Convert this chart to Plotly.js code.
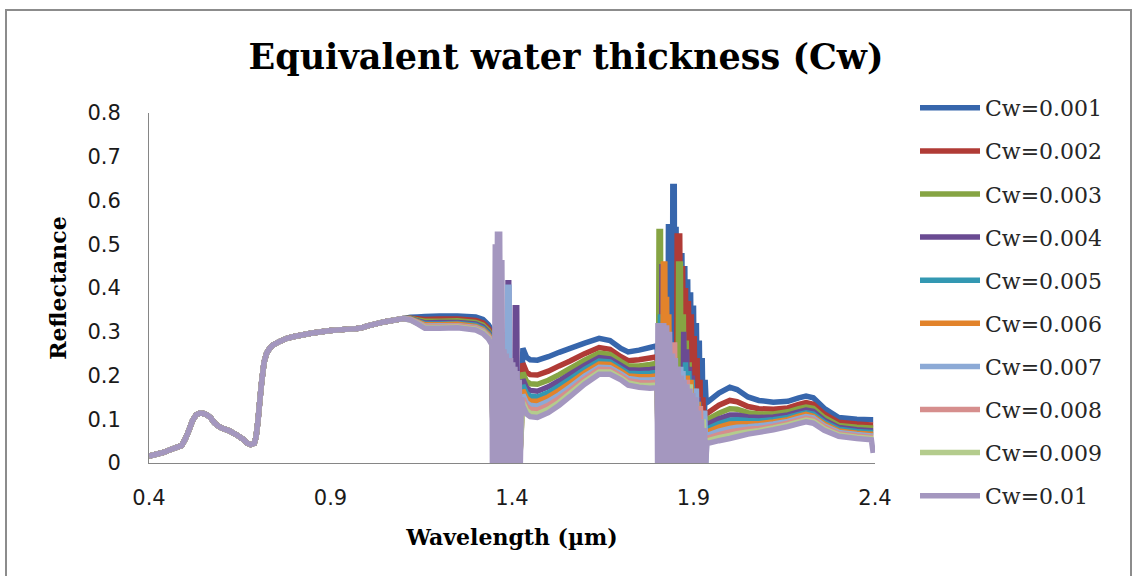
<!DOCTYPE html>
<html>
<head>
<meta charset="utf-8">
<script src="https://cdn.plot.ly/plotly-3.0.1.min.js"></script>
<style>
  html, body { margin: 0; padding: 0; background: #ffffff; }
  #chart { width: 1132px; height: 576px; }
</style>
</head>
<body>
<div id="chart"></div>
<script>
// ---------------- DATA ----------------
const seriesNames = ["Cw=0.001", "Cw=0.002", "Cw=0.003", "Cw=0.004", "Cw=0.005",
                     "Cw=0.006", "Cw=0.007", "Cw=0.008", "Cw=0.009", "Cw=0.01"];

// Common part of the spectrum (identical for every Cw), wavelength in µm
const commonWl = [0.400, 0.420, 0.440, 0.460, 0.480, 0.490, 0.500, 0.510, 0.520, 0.530,
                  0.540, 0.550, 0.560, 0.570, 0.580, 0.590, 0.600, 0.620, 0.640, 0.660,
                  0.670, 0.680, 0.690, 0.695, 0.700, 0.705, 0.710, 0.717, 0.724, 0.733,
                  0.742, 0.760, 0.780, 0.800, 0.850, 0.900, 0.950, 0.970, 0.990, 1.000,
                  1.050, 1.100];
const commonR = [0.016, 0.020, 0.024, 0.031, 0.037, 0.040, 0.055, 0.075, 0.097, 0.110,
                 0.114, 0.113, 0.110, 0.103, 0.092, 0.085, 0.080, 0.074, 0.065, 0.054,
                 0.046, 0.042, 0.045, 0.060, 0.095, 0.140, 0.183, 0.230, 0.251, 0.263,
                 0.270, 0.278, 0.285, 0.289, 0.297, 0.303, 0.306, 0.307, 0.310, 0.313,
                 0.323, 0.330];

// Segment 1.12 - 1.345 µm
const wlB = [1.12, 1.14, 1.16, 1.20, 1.25, 1.30, 1.32, 1.335, 1.345];
const reflB = [
  [0.333, 0.334, 0.335, 0.336, 0.336, 0.334, 0.328, 0.316, 0.302],
  [0.331, 0.330, 0.328, 0.329, 0.329, 0.326, 0.320, 0.308, 0.294],
  [0.331, 0.327, 0.324, 0.324, 0.325, 0.321, 0.315, 0.303, 0.289],
  [0.330, 0.325, 0.320, 0.321, 0.321, 0.318, 0.311, 0.299, 0.285],
  [0.329, 0.324, 0.318, 0.318, 0.319, 0.315, 0.308, 0.296, 0.282],
  [0.329, 0.323, 0.316, 0.316, 0.317, 0.312, 0.305, 0.293, 0.279],
  [0.328, 0.321, 0.313, 0.314, 0.314, 0.310, 0.302, 0.290, 0.276],
  [0.328, 0.320, 0.312, 0.312, 0.313, 0.308, 0.300, 0.288, 0.274],
  [0.327, 0.319, 0.310, 0.310, 0.311, 0.306, 0.298, 0.286, 0.272],
  [0.327, 0.318, 0.308, 0.308, 0.309, 0.304, 0.296, 0.284, 0.270]
];

// Noisy water band around 1.35 - 1.43 µm
const band1Wl = [
  [1.348, 1.421],
  [1.348, 1.421],
  [1.348, 1.421],
  [1.348, 1.387, 1.389, 1.391, 1.393, 1.407, 1.409, 1.413, 1.415, 1.421],
  [1.348, 1.421],
  [1.348, 1.421],
  [1.348, 1.386, 1.388, 1.392, 1.394, 1.421],
  [1.348, 1.421],
  [1.348, 1.421],
  [1.346, 1.348, 1.351, 1.354, 1.357, 1.360, 1.363, 1.366, 1.369, 1.372, 1.375, 1.378, 1.381, 1.384, 1.387,
   1.390, 1.393, 1.396, 1.399, 1.402, 1.405, 1.408, 1.411, 1.414, 1.417, 1.420, 1.423, 1.426]
];
const band1R = [
  [0, 0],
  [0, 0],
  [0, 0],
  [0, 0, 0.412, 0.412, 0, 0, 0.355, 0.355, 0, 0],
  [0, 0],
  [0, 0],
  [0, 0, 0.402, 0.402, 0, 0],
  [0, 0],
  [0, 0],
  [0, 0.27, 0, 0.50, 0, 0.529, 0, 0.529, 0, 0.464, 0, 0.26, 0, 0.25, 0,
   0.24, 0, 0.24, 0, 0.23, 0, 0.22, 0, 0.21, 0, 0.19, 0, 0.15]
];

// Segment 1.43 - 1.80 µm
const wlC = [1.43, 1.44, 1.45, 1.47, 1.50, 1.53, 1.56, 1.60, 1.64, 1.67, 1.70, 1.72, 1.75, 1.78, 1.80];
const reflC = [
  [0.262, 0.242, 0.236, 0.235, 0.243, 0.253, 0.262, 0.274, 0.285, 0.280, 0.262, 0.254, 0.258, 0.264, 0.268],
  [0.228, 0.208, 0.202, 0.201, 0.210, 0.222, 0.233, 0.250, 0.264, 0.260, 0.243, 0.234, 0.236, 0.240, 0.243],
  [0.207, 0.187, 0.181, 0.180, 0.189, 0.202, 0.216, 0.235, 0.251, 0.248, 0.232, 0.222, 0.222, 0.225, 0.228],
  [0.191, 0.172, 0.166, 0.164, 0.174, 0.188, 0.203, 0.223, 0.241, 0.238, 0.223, 0.213, 0.212, 0.214, 0.216],
  [0.178, 0.159, 0.153, 0.151, 0.161, 0.176, 0.192, 0.214, 0.233, 0.231, 0.216, 0.205, 0.204, 0.205, 0.207],
  [0.167, 0.148, 0.142, 0.141, 0.151, 0.166, 0.183, 0.206, 0.226, 0.225, 0.210, 0.199, 0.197, 0.197, 0.199],
  [0.156, 0.138, 0.132, 0.130, 0.141, 0.156, 0.174, 0.199, 0.219, 0.218, 0.204, 0.193, 0.190, 0.190, 0.191],
  [0.147, 0.129, 0.123, 0.121, 0.132, 0.148, 0.166, 0.192, 0.214, 0.213, 0.199, 0.188, 0.184, 0.183, 0.185],
  [0.138, 0.120, 0.114, 0.112, 0.123, 0.139, 0.159, 0.186, 0.208, 0.208, 0.194, 0.183, 0.178, 0.177, 0.178],
  [0.130, 0.112, 0.106, 0.104, 0.115, 0.132, 0.152, 0.180, 0.203, 0.203, 0.190, 0.178, 0.173, 0.171, 0.172]
];

// Noisy water band around 1.80 - 1.94 µm
const band2Wl = [
  [1.804, 1.829, 1.831, 1.835, 1.837, 1.841, 1.843, 1.847, 1.849, 1.852, 1.856, 1.860, 1.864, 1.868, 1.872,
   1.876, 1.880, 1.884, 1.888, 1.892, 1.896, 1.900, 1.904, 1.908, 1.912, 1.916, 1.920, 1.924, 1.928, 1.932, 1.935],
  [1.804, 1.853, 1.855, 1.859, 1.862, 1.866, 1.870, 1.874, 1.878, 1.882, 1.886, 1.890, 1.894, 1.898, 1.902,
   1.906, 1.910, 1.914, 1.918, 1.922, 1.926, 1.930, 1.934, 1.937],
  [1.803, 1.805, 1.809, 1.811, 1.857, 1.859, 1.864, 1.866, 1.872, 1.875, 1.880, 1.883, 1.888, 1.891, 1.896,
   1.899, 1.904, 1.907, 1.912, 1.915, 1.920, 1.923, 1.928, 1.931, 1.937],
  [1.803, 1.811, 1.813, 1.815, 1.870, 1.873, 1.878, 1.881, 1.886, 1.889, 1.894, 1.897, 1.902, 1.905, 1.910,
   1.913, 1.918, 1.921, 1.926, 1.929, 1.937],
  [1.803, 1.807, 1.809, 1.811, 1.875, 1.878, 1.884, 1.887, 1.893, 1.896, 1.902, 1.905, 1.911, 1.914, 1.920,
   1.923, 1.929, 1.937],
  [1.803, 1.815, 1.817, 1.821, 1.823, 1.826, 1.829, 1.832, 1.835, 1.880, 1.883, 1.890, 1.893, 1.900, 1.903,
   1.910, 1.913, 1.920, 1.923, 1.930, 1.937],
  [1.803, 1.862, 1.865, 1.868, 1.871, 1.874, 1.877, 1.905, 1.908, 1.911, 1.928, 1.931, 1.934, 1.937],
  [1.803, 1.842, 1.844, 1.848, 1.850, 1.880, 1.883, 1.886, 1.916, 1.919, 1.922, 1.937],
  [1.803, 1.888, 1.891, 1.894, 1.924, 1.927, 1.930, 1.937],
  [1.801, 1.802, 1.806, 1.810, 1.814, 1.818, 1.822, 1.826, 1.830, 1.834, 1.838, 1.842, 1.846, 1.850, 1.854, 1.858,
   1.862, 1.866, 1.870, 1.874, 1.878, 1.882, 1.886, 1.890, 1.894, 1.898, 1.902, 1.906, 1.910, 1.914, 1.918,
   1.922, 1.926, 1.930, 1.934, 1.937]
];
const band2R = [
  [0, 0, 0.54, 0.54, 0, 0, 0.632, 0.632, 0, 0.54, 0, 0.52, 0, 0.48, 0,
   0.45, 0, 0.42, 0, 0.39, 0, 0.36, 0, 0.32, 0, 0.28, 0, 0.24, 0, 0.19, 0.137],
  [0, 0, 0.525, 0, 0.525, 0, 0.45, 0, 0.40, 0, 0.37, 0, 0.34, 0, 0.29,
   0, 0.24, 0, 0.19, 0, 0.15, 0, 0.11, 0.115],
  [0, 0.529, 0.529, 0, 0, 0.455, 0.455, 0, 0.34, 0, 0.28, 0, 0.23, 0, 0.19,
   0, 0.165, 0, 0.15, 0, 0.12, 0, 0.10, 0, 0.100],
  [0, 0, 0.455, 0, 0, 0.30, 0, 0.26, 0, 0.22, 0, 0.20, 0, 0.17, 0,
   0.15, 0, 0.12, 0, 0.10, 0.089],
  [0, 0, 0.34, 0, 0, 0.23, 0, 0.21, 0, 0.19, 0, 0.16, 0, 0.14, 0,
   0.11, 0, 0.079],
  [0, 0, 0.455, 0.455, 0, 0.38, 0, 0.34, 0, 0, 0.20, 0, 0.19, 0, 0.17,
   0, 0.14, 0, 0.11, 0, 0.072],
  [0, 0, 0.22, 0, 0.21, 0, 0, 0, 0.17, 0, 0, 0.12, 0, 0.064],
  [0, 0, 0.27, 0.27, 0, 0, 0.19, 0, 0, 0.13, 0, 0.057],
  [0, 0, 0.18, 0, 0, 0.10, 0, 0.051],
  [0, 0.32, 0, 0.32, 0, 0.32, 0, 0.315, 0, 0.30, 0, 0.25, 0, 0.24, 0, 0.22,
   0, 0.20, 0, 0.19, 0, 0.18, 0, 0.17, 0, 0.16, 0, 0.15, 0, 0.12, 0,
   0.10, 0, 0.08, 0, 0.05]
];

// Segment 1.94 - 2.40 µm
const wlD = [1.94, 1.97, 2.00, 2.02, 2.05, 2.08, 2.12, 2.16, 2.19, 2.21, 2.23, 2.26, 2.30, 2.35, 2.39, 2.395];
const reflD = [
  [0.140, 0.160, 0.173, 0.168, 0.151, 0.143, 0.139, 0.141, 0.149, 0.153, 0.149, 0.125, 0.104, 0.100, 0.099, 0.099],
  [0.115, 0.132, 0.143, 0.140, 0.129, 0.124, 0.123, 0.126, 0.134, 0.138, 0.134, 0.112, 0.093, 0.089, 0.087, 0.087],
  [0.100, 0.114, 0.124, 0.123, 0.115, 0.112, 0.112, 0.117, 0.124, 0.128, 0.125, 0.104, 0.086, 0.082, 0.080, 0.080],
  [0.089, 0.101, 0.110, 0.110, 0.105, 0.104, 0.105, 0.110, 0.117, 0.121, 0.118, 0.098, 0.081, 0.076, 0.074, 0.074],
  [0.079, 0.090, 0.098, 0.099, 0.097, 0.096, 0.099, 0.104, 0.111, 0.115, 0.112, 0.093, 0.077, 0.072, 0.070, 0.070],
  [0.072, 0.082, 0.089, 0.090, 0.090, 0.090, 0.094, 0.099, 0.107, 0.111, 0.107, 0.089, 0.073, 0.068, 0.066, 0.066],
  [0.064, 0.073, 0.079, 0.082, 0.083, 0.085, 0.089, 0.095, 0.102, 0.106, 0.103, 0.085, 0.070, 0.065, 0.062, 0.062],
  [0.057, 0.065, 0.071, 0.074, 0.077, 0.079, 0.084, 0.091, 0.098, 0.102, 0.099, 0.082, 0.067, 0.062, 0.059, 0.059],
  [0.051, 0.058, 0.063, 0.067, 0.071, 0.074, 0.080, 0.087, 0.094, 0.098, 0.095, 0.078, 0.064, 0.059, 0.056, 0.056],
  [0.045, 0.051, 0.056, 0.060, 0.066, 0.070, 0.076, 0.083, 0.090, 0.094, 0.091, 0.075, 0.061, 0.056, 0.053, 0.023]
];

const xTickVals = [0.4, 0.9, 1.4, 1.9, 2.4];
const xTickText = ["0.4", "0.9", "1.4", "1.9", "2.4"];
const yTickVals = [0, 0.1, 0.2, 0.3, 0.4, 0.5, 0.6, 0.7, 0.8];
const yTickText = ["0", "0.1", "0.2", "0.3", "0.4", "0.5", "0.6", "0.7", "0.8"];

// ---------------- STYLE ----------------
const seriesColors = ["#3766AC", "#B03B36", "#86A443", "#6A4B92", "#3398B2",
                      "#E2832B", "#8CAAD6", "#D68E8D", "#B4CC8D", "#A497BF"];

const traces = seriesNames.map((name, k) => ({
  type: "scatter",
  mode: "lines",
  name: name,
  legendgroup: "g" + k,
  x: commonWl.concat(wlB, band1Wl[k], wlC, band2Wl[k], wlD),
  y: commonR.concat(reflB[k], band1R[k], reflC[k], band2R[k], reflD[k]),
  line: { color: seriesColors[k], width: 5.5, simplify: false },
  hoverinfo: "skip"
}));

const plotL = 149, plotR = 875, plotT = 113, plotB = 463;
const W = 1132, H = 576;
const pw = plotR - plotL, ph = plotB - plotT;
const px2paper = p => (p - plotL) / pw;
const py2paper = p => (plotB - p) / ph;

const layout = {
  width: W, height: H,
  margin: { l: plotL, r: W - plotR, t: plotT, b: H - plotB, pad: 0 },
  paper_bgcolor: "#ffffff",
  plot_bgcolor: "#ffffff",
  showlegend: true,
  title: {
    text: "Equivalent water thickness (Cw)",
    font: { family: "DejaVu Serif", size: 35, color: "#000000", weight: "bold" },
    x: 0.5, xref: "container", xanchor: "center",
    y: 1 - 57 / H, yref: "container", yanchor: "middle"
  },
  xaxis: {
    range: [0.4, 2.4],
    tickmode: "array", tickvals: xTickVals, ticktext: xTickText,
    showline: true, linecolor: "#868686", linewidth: 1,
    showgrid: false, zeroline: false,
    ticks: "outside", ticklen: 16, tickcolor: "rgba(0,0,0,0)",
    tickfont: { family: "DejaVu Sans", size: 21, color: "#1a1a1a" },
    title: { text: "Wavelength (µm)", standoff: 20,
             font: { family: "DejaVu Serif", size: 22, color: "#000000", weight: "bold" } },
    fixedrange: true
  },
  yaxis: {
    range: [0, 0.8],
    tickmode: "array", tickvals: yTickVals, ticktext: yTickText,
    showline: true, linecolor: "#868686", linewidth: 1,
    showgrid: false, zeroline: false,
    ticks: "outside", ticklen: 23, tickcolor: "rgba(0,0,0,0)",
    tickfont: { family: "DejaVu Sans", size: 21, color: "#1a1a1a" },
    title: { text: "Reflectance", standoff: 14,
             font: { family: "DejaVu Serif", size: 22, color: "#000000", weight: "bold" } },
    fixedrange: true
  },
  legend: {
    x: px2paper(915), xanchor: "left",
    y: py2paper(87), yanchor: "top",
    font: { family: "DejaVu Serif", size: 22, color: "#262626" },
    bgcolor: "rgba(0,0,0,0)",
    tracegroupgap: 11.5,
    itemwidth: 60,
    maxheight: 1
  },
  shapes: [{
    type: "rect", xref: "paper", yref: "paper", layer: "above",
    x0: px2paper(6), x1: px2paper(1131), y0: py2paper(580), y1: py2paper(10),
    line: { color: "#8c8c8c", width: 2 }, fillcolor: "rgba(0,0,0,0)"
  }]
};

Plotly.newPlot("chart", traces, layout, { displayModeBar: false, staticPlot: true });
</script>
</body>
</html>
